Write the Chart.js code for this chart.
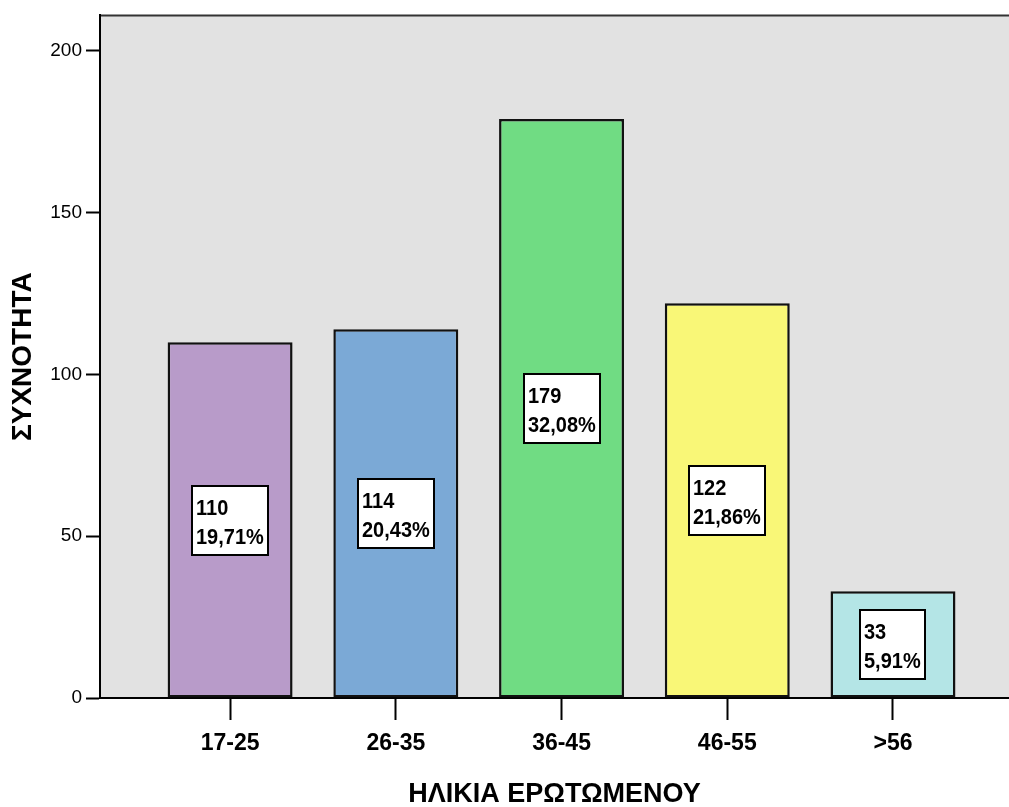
<!DOCTYPE html>
<html>
<head>
<meta charset="utf-8">
<title>ΗΛΙΚΙΑ ΕΡΩΤΩΜΕΝΟΥ</title>
<script src="https://cdn.jsdelivr.net/npm/chart.js@4/dist/chart.umd.min.js"></script>
<style>
  html, body { margin: 0; padding: 0; background: #ffffff; overflow: hidden; }
  canvas { display: block; }
</style>
</head>
<body>
<canvas id="c" width="1009" height="807"></canvas>
<script>
// Age groups and respondent counts
const categories = ['17-25', '26-35', '36-45', '46-55', '>56'];
const counts = [110, 114, 179, 122, 33];
const percentLabels = ['19,71%', '20,43%', '32,08%', '21,86%', '5,91%'];
const barColors = ['#b89bc9', '#7ba9d6', '#70dc83', '#f9f777', '#b4e5e6'];
const yTicks = [0, 50, 100, 150, 200];

const FONT = "'Liberation Sans', Arial, Helvetica, sans-serif";

// Grey plot background and top frame line
const plotFrame = {
  id: 'plotFrame',
  beforeDraw(chart) {
    const { ctx, chartArea: a } = chart;
    ctx.save();
    ctx.fillStyle = '#e2e2e2';
    ctx.fillRect(a.left, a.top, a.right - a.left, a.bottom - a.top);
    ctx.strokeStyle = '#333333';
    ctx.lineWidth = 2;
    ctx.beginPath();
    ctx.moveTo(a.left, a.top);
    ctx.lineTo(a.right, a.top);
    ctx.stroke();
    ctx.restore();
  }
};

// White value boxes placed at the middle height of each bar
const valueBoxes = {
  id: 'valueBoxes',
  afterDatasetsDraw(chart) {
    const { ctx } = chart;
    const yScale = chart.scales.y;
    const meta = chart.getDatasetMeta(0);
    ctx.save();
    ctx.font = 'bold 20px ' + FONT;
    ctx.textBaseline = 'alphabetic';
    ctx.textAlign = 'left';
    meta.data.forEach((el, i) => {
      const lines = [String(counts[i]), percentLabels[i]];
      const tw = Math.max(...lines.map(t => ctx.measureText(t).width));
      const w = Math.round(tw + 8);
      const h = 69;
      const cy = yScale.getPixelForValue(counts[i] / 2);
      const left = Math.round(el.x - w / 2);
      const top = Math.round(cy - h / 2);
      ctx.fillStyle = '#ffffff';
      ctx.fillRect(left, top, w, h);
      ctx.strokeStyle = '#000000';
      ctx.lineWidth = 2;
      ctx.strokeRect(left, top, w, h);
      ctx.fillStyle = '#000000';
      // slightly tall lettering
      lines.forEach((t, k) => {
        ctx.save();
        ctx.translate(left + 4, top + 29 + 29 * k);
        ctx.scale(1, 1.12);
        ctx.fillText(t, 0, 0);
        ctx.restore();
      });
    });
    ctx.restore();
  }
};

new Chart(document.getElementById('c'), {
  type: 'bar',
  data: {
    datasets: [{
      data: counts.map((v, i) => ({ x: i, y: v })),
      backgroundColor: barColors,
      borderColor: '#111111',
      borderWidth: 2.5,
      borderSkipped: false,
      barPercentage: 0.754,
      categoryPercentage: 1
    }]
  },
  options: {
    responsive: false,
    animation: false,
    events: [],
    layout: { padding: { top: 15, right: 0, bottom: 0, left: 0 } },
    plugins: {
      legend: { display: false },
      tooltip: { enabled: false }
    },
    scales: {
      x: {
        type: 'linear',
        position: 'bottom',
        offset: false,
        min: -0.785,
        max: 4.70,
        afterBuildTicks(scale) {
          scale.ticks = categories.map((c, i) => ({ value: i }));
        },
        afterFit(scale) { scale.height = 109; },
        grid: {
          offset: false,
          drawOnChartArea: false,
          drawTicks: true,
          tickLength: 22,
          tickColor: '#000000',
          tickWidth: 2
        },
        border: { display: true, color: '#000000', width: 2 },
        ticks: {
          padding: 10,
          maxRotation: 0,
          color: '#000000',
          font: { family: FONT, size: 23, weight: 'bold' },
          callback: (v) => categories[v] !== undefined ? categories[v] : ''
        },
        title: {
          display: true,
          text: 'ΗΛΙΚΙΑ ΕΡΩΤΩΜΕΝΟΥ',
          color: '#000000',
          font: { family: FONT, size: 27, weight: 'bold', lineHeight: 1 },
          padding: { top: 0, bottom: -1 }
        }
      },
      y: {
        min: 0,
        max: 211,
        afterBuildTicks(scale) {
          scale.ticks = yTicks.map(v => ({ value: v }));
        },
        afterFit(scale) { scale.width = 100; },
        grid: {
          drawOnChartArea: false,
          drawTicks: true,
          tickLength: 14,
          tickColor: '#000000',
          tickWidth: 2
        },
        border: { display: true, color: '#000000', width: 2 },
        ticks: {
          padding: 4,
          color: '#000000',
          font: { family: FONT, size: 19 }
        },
        title: {
          display: true,
          text: 'ΣΥΧΝΟΤΗΤΑ',
          color: '#000000',
          font: { family: FONT, size: 28, weight: 'bold', lineHeight: 1.2 },
          padding: { top: 6, bottom: 0 }
        }
      }
    }
  },
  plugins: [plotFrame, valueBoxes]
});
</script>
</body>
</html>
